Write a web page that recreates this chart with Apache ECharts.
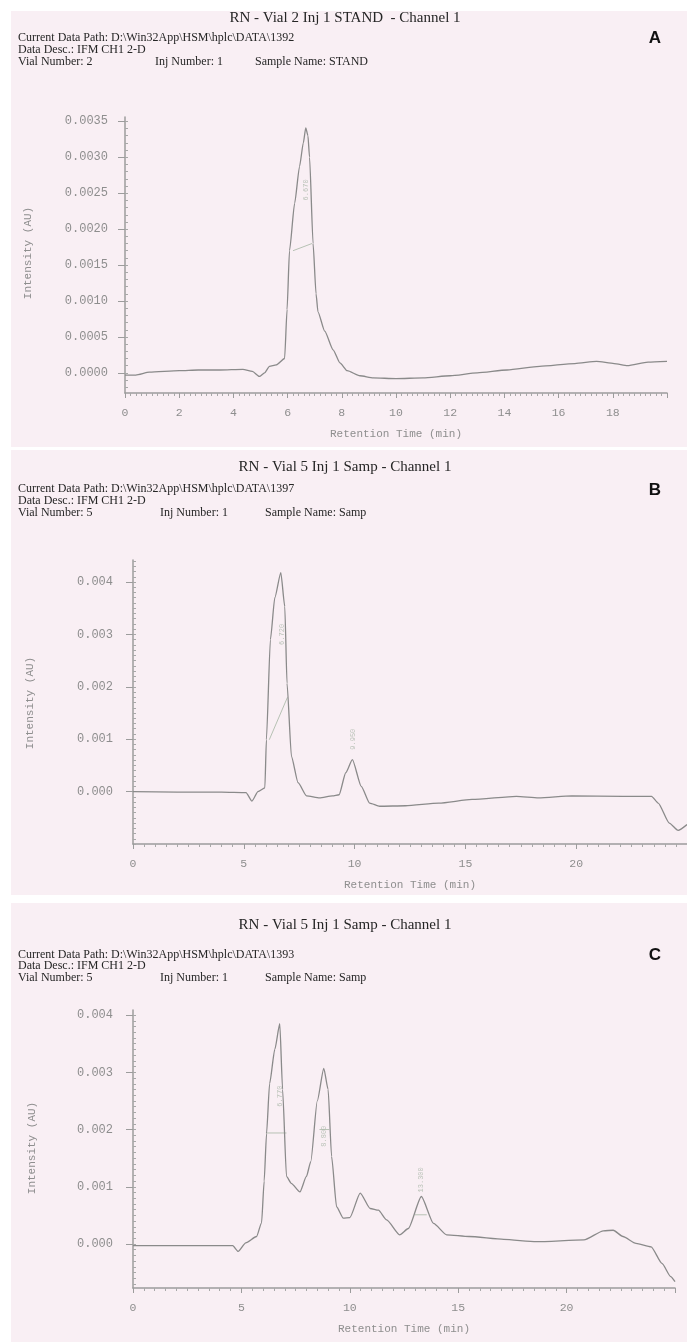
<!DOCTYPE html>
<html><head><meta charset="utf-8">
<script src="https://cdn.jsdelivr.net/npm/echarts@6/dist/echarts.min.js"></script>
<style>html,body{margin:0;padding:0;background:#fff}#c{width:687px;height:1342px}</style>
</head><body><div id="c"></div><script>
// ---------- DATA ----------
const timeA = [0, 0.4, 0.9, 2.0, 2.7, 3.5, 4.35, 4.7, 4.96, 5.15, 5.33, 5.58, 5.89, 5.98, 6.07, 6.26, 6.44, 6.58, 6.67, 6.75, 6.81, 6.94, 7.05, 7.12, 7.37, 7.68, 7.93, 8.2, 8.67, 9.16, 10.0, 11.0, 12.0, 13.0, 14.1, 15.3, 16.6, 17.4, 18.05, 18.54, 19.3, 20.0];
const intensityA = [-0.00003, -0.00003, 0.00001, 0.00003, 0.00004, 0.00004, 0.00005, 0.00002, -0.00005, 0.0, 0.00009, 0.00011, 0.0002, 0.00088, 0.0017, 0.00236, 0.00287, 0.0032, 0.00341, 0.0033, 0.003, 0.0018, 0.0011, 0.00085, 0.00058, 0.00032, 0.00014, 0.00003, -0.00004, -0.00007, -0.00008, -0.00007, -0.00004, 0.0, 0.00004, 0.00009, 0.00013, 0.00016, 0.00013, 0.0001, 0.00015, 0.00016];

const timeB = [0, 2, 4, 5.1, 5.37, 5.64, 5.95, 6.02, 6.2, 6.4, 6.67, 6.85, 6.95, 7.15, 7.45, 7.83, 8.42, 9.0, 9.3, 9.6, 9.9, 10.3, 10.68, 11.13, 12.3, 13.8, 15.3, 17.3, 18.3, 19.8, 22.1, 23.4, 23.7, 24.2, 24.6, 25.0];
const intensityB = [0.0, -0.00001, -0.00001, -0.00002, -0.00018, 0.0, 0.00007, 0.00099, 0.0029, 0.0037, 0.00418, 0.00353, 0.00207, 0.00067, 0.00017, -0.00008, -0.00012, -0.00008, -0.00006, 0.00036, 0.00061, 0.0001, -0.00022, -0.00028, -0.00027, -0.00022, -0.00015, -0.00009, -0.00012, -0.00008, -0.00009, -0.00009, -0.00022, -0.0006, -0.00074, -0.00063];

const timeC = [0, 2, 4.6, 4.85, 5.2, 5.7, 5.93, 6.05, 6.16, 6.3, 6.54, 6.77, 6.9, 7.08, 7.3, 7.7, 8.0, 8.2, 8.5, 8.8, 9.0, 9.16, 9.39, 9.7, 10.0, 10.48, 10.94, 11.32, 11.7, 12.3, 12.7, 13.3, 13.86, 14.47, 15.5, 17.1, 18.6, 20.8, 21.7, 22.15, 22.6, 23.2, 23.9, 24.4, 24.8, 25.0];
const intensityC = [-0.00003, -0.00003, -0.00003, -0.00013, 0.00002, 0.00013, 0.00037, 0.0011, 0.00193, 0.0028, 0.0034, 0.00385, 0.0027, 0.00118, 0.00106, 0.00091, 0.00118, 0.00144, 0.0025, 0.00307, 0.0027, 0.00153, 0.00065, 0.00045, 0.00046, 0.00089, 0.00062, 0.00059, 0.00042, 0.00016, 0.00027, 0.00083, 0.00036, 0.00016, 0.00013, 0.00008, 0.00004, 0.00007, 0.00023, 0.00024, 0.00013, 0.00001, -0.00005, -0.00034, -0.00057, -0.00066];

// integration baselines drawn by the instrument
const baselineA = [[6.2, 0.0017], [6.9, 0.0018]];
const baselineB = [[6.15, 0.00099], [6.97, 0.0018]];
const baselineC = [[[6.13, 0.00194], [7.08, 0.00194]], [[8.6, 0.002], [9.05, 0.002]], [[13.0, 0.00051], [13.55, 0.00051]]];
// peak label anchors [time, intensity where label starts]
const peakLabelsA = [[6.67, 0.0024]];
const peakLabelsB = [[6.72, 0.0028], [9.95, 0.0008]];
const peakLabelsC = [[6.77, 0.0024], [8.8, 0.0017], [13.3, 0.0009]];

const yTicksA = [0, 0.0005, 0.001, 0.0015, 0.002, 0.0025, 0.003, 0.0035];
const yTicksB = [0, 0.001, 0.002, 0.003, 0.004];
const yTicksC = [0, 0.001, 0.002, 0.003, 0.004];

const titles = ['RN - Vial 2 Inj 1 STAND  - Channel 1', 'RN - Vial 5 Inj 1 Samp - Channel 1', 'RN - Vial 5 Inj 1 Samp - Channel 1'];
const dataPaths = ['Current Data Path: D:\\Win32App\\HSM\\hplc\\DATA\\1392', 'Current Data Path: D:\\Win32App\\HSM\\hplc\\DATA\\1397', 'Current Data Path: D:\\Win32App\\HSM\\hplc\\DATA\\1393'];
const dataDesc = 'Data Desc.: IFM CH1 2-D';
const vialNumbers = ['Vial Number: 2', 'Vial Number: 5', 'Vial Number: 5'];
const injNumbers = ['Inj Number: 1', 'Inj Number: 1', 'Inj Number: 1'];
const sampleNames = ['Sample Name: STAND', 'Sample Name: Samp', 'Sample Name: Samp'];
const panelLetters = ['A', 'B', 'C'];
const xAxisTitle = 'Retention Time (min)';
const yAxisTitle = 'Intensity (AU)';

// ---------- LAYOUT ----------
const mono = "'Liberation Mono','DejaVu Sans Mono',monospace";
const serif = "'Liberation Serif','DejaVu Serif',serif";
const gray = '#8e8e8e';
const lineGray = '#8a8a8a';
const pink = '#f9eff4';

const panels = [
  {time: timeA, val: intensityA, base: [baselineA], peaks: peakLabelsA, yTicks: yTicksA, dec: 4, ymargin: 17,
   grid: {left: 125, top: 117, width: 542, height: 276}, ymin: -0.00028, ymax: 0.00356, xmax: 20, xint: 2, xsplit: 10, yminor: 0.0001,
   bg: [11, 11, 676, 436], head: [18, 38, 50, 62], inj: 155, samp: 255, letterY: 38, yName: [28, 253]},
  {time: timeB, val: intensityB, base: [baselineB], peaks: peakLabelsB, yTicks: yTicksB, dec: 3, ymargin: 20,
   grid: {left: 133, top: 560, width: 554, height: 284}, ymin: -0.001, ymax: 0.00442, xmax: 25, xint: 5, xsplit: 10, yminor: 0.0001,
   bg: [11, 450, 676, 445], head: [467, 489, 501, 513], inj: 160, samp: 265, letterY: 490, yName: [30, 703]},
  {time: timeC, val: intensityC, base: baselineC, peaks: peakLabelsC, yTicks: yTicksC, dec: 3, ymargin: 20,
   grid: {left: 133, top: 1010, width: 542, height: 278}, ymin: -0.00077, ymax: 0.00409, xmax: 25, xint: 5, xsplit: 10, yminor: 0.0001,
   bg: [11, 903, 676, 439], head: [925, 955, 966, 978], inj: 160, samp: 265, letterY: 955, yName: [32, 1148]}
];

const grids = [], xAxes = [], yAxes = [], series = [], graphics = [];
const txt = '#262626';
panels.forEach((p, i) => {
  graphics.push({type: 'rect', z: -10, shape: {x: p.bg[0], y: p.bg[1], width: p.bg[2], height: p.bg[3]}, style: {fill: pink}, silent: true});
  graphics.push({type: 'text', x: 345, y: p.head[0], style: {text: titles[i], font: '15px ' + serif, fill: txt, textAlign: 'center', textVerticalAlign: 'middle'}});
  graphics.push({type: 'text', x: 18, y: p.head[1], style: {text: dataPaths[i], font: '12px ' + serif, fill: txt, textVerticalAlign: 'middle'}});
  graphics.push({type: 'text', x: 18, y: p.head[2], style: {text: dataDesc, font: '12px ' + serif, fill: txt, textVerticalAlign: 'middle'}});
  graphics.push({type: 'text', x: 18, y: p.head[3], style: {text: vialNumbers[i], font: '12px ' + serif, fill: txt, textVerticalAlign: 'middle'}});
  graphics.push({type: 'text', x: p.inj, y: p.head[3], style: {text: injNumbers[i], font: '12px ' + serif, fill: txt, textVerticalAlign: 'middle'}});
  graphics.push({type: 'text', x: p.samp, y: p.head[3], style: {text: sampleNames[i], font: '12px ' + serif, fill: txt, textVerticalAlign: 'middle'}});
  graphics.push({type: 'text', x: 655, y: p.letterY, style: {text: panelLetters[i], font: 'bold 17px Arial, "Liberation Sans", sans-serif', fill: '#111', textAlign: 'center', textVerticalAlign: 'middle'}});
  graphics.push({type: 'text', x: p.yName[0], y: p.yName[1], rotation: Math.PI / 2, style: {text: yAxisTitle, font: '11px ' + mono, fill: gray, textAlign: 'center', textVerticalAlign: 'middle'}});

  grids.push(Object.assign({containLabel: false}, p.grid));
  xAxes.push({
    type: 'value', gridIndex: i, min: 0, max: p.xmax, interval: p.xint,
    name: xAxisTitle, nameLocation: 'middle', nameGap: 36, nameTextStyle: {fontFamily: mono, fontSize: 11, color: gray},
    axisLine: {show: true, onZero: false, lineStyle: {color: '#9c9c9c', width: 1.5}},
    axisTick: {show: true, length: 5, lineStyle: {color: '#9c9c9c'}},
    minorTick: {show: true, splitNumber: p.xsplit, length: 3, lineStyle: {color: '#a8a8a8'}},
    axisLabel: {fontFamily: mono, fontSize: 11.5, color: gray, margin: 14, showMaxLabel: false, formatter: v => String(v)},
    splitLine: {show: false}
  });
  const minors = [];
  for (let k = Math.ceil(p.ymin / p.yminor); k * p.yminor <= p.ymax + 1e-12; k++) minors.push(+(k * p.yminor).toFixed(6));
  yAxes.push({
    type: 'value', gridIndex: i, min: p.ymin, max: p.ymax,
    axisLine: {show: true, onZero: false, lineStyle: {color: '#9c9c9c', width: 1.5}},
    axisTick: {show: true, length: 7, customValues: p.yTicks, lineStyle: {color: '#9c9c9c'}},
    axisLabel: {customValues: p.yTicks, fontFamily: mono, fontSize: 12, color: gray, margin: p.ymargin, formatter: v => v.toFixed(p.dec)},
    splitLine: {show: false}
  });
  yAxes.push({
    type: 'value', gridIndex: i, min: p.ymin, max: p.ymax,
    axisLine: {show: false},
    axisTick: {show: true, length: 3, customValues: minors, lineStyle: {color: '#a8a8a8'}},
    axisLabel: {show: false},
    splitLine: {show: false}
  });
  series.push({
    type: 'line', xAxisIndex: i, yAxisIndex: i * 2, data: p.time.map((t, k) => [t, p.val[k]]),
    symbol: 'none', smooth: 0.2, smoothMonotone: 'x', lineStyle: {color: lineGray, width: 1.3}, silent: true, z: 3
  });
  p.base.forEach(seg => series.push({
    type: 'line', xAxisIndex: i, yAxisIndex: i * 2, data: seg, symbol: 'none',
    lineStyle: {color: '#b7c2b4', width: 1}, silent: true, z: 2
  }));
  series.push({
    type: 'scatter', xAxisIndex: i, yAxisIndex: i * 2, data: p.peaks, symbolSize: 0, silent: true,
    label: {show: true, position: 'inside', rotate: 90, align: 'left', verticalAlign: 'middle', fontFamily: mono, fontSize: 7, color: '#a9b6a7',
      formatter: d => d.value[0].toFixed(3)}
  });
});

const chart = echarts.init(document.getElementById('c'), null, {renderer: 'canvas'});
chart.setOption({
  animation: false,
  backgroundColor: '#ffffff',
  grid: grids, xAxis: xAxes, yAxis: yAxes, series: series,
  graphic: graphics
});
</script></body></html>
